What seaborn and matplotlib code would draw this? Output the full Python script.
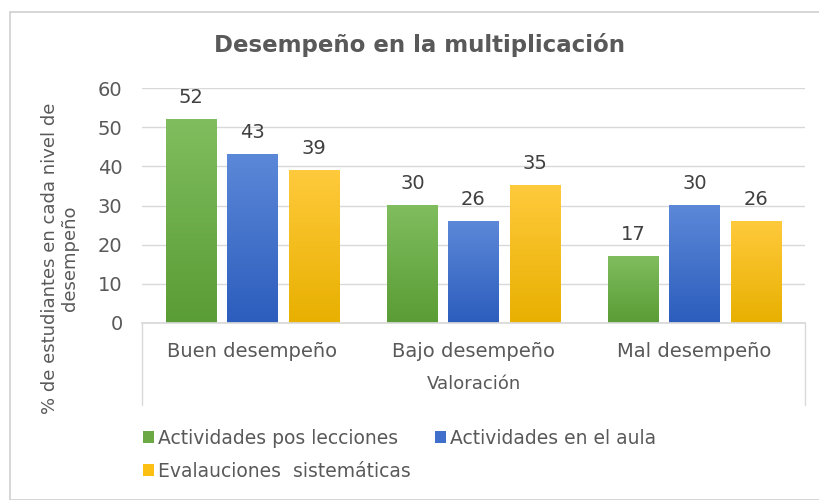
import matplotlib
matplotlib.use("Agg")
import numpy as np
import pandas as pd
import seaborn as sns
import matplotlib.pyplot as plt
from matplotlib.patches import Patch, Rectangle
from matplotlib.colors import LinearSegmentedColormap

# datos
categorias = ["Buen desempeño", "Bajo desempeño", "Mal desempeño"]
series = ["Actividades pos lecciones", "Actividades en el aula", "Evalauciones  sistemáticas"]
pos_lecciones = [52, 30, 17]
en_aula = [43, 26, 30]
evaluaciones = [39, 35, 26]

colores = ["#6aa944", "#3f6ecb", "#fcbf14"]
# (abajo, arriba) para el degradado tipo Excel
degradados = [("#5a9c35", "#80bd5e"), ("#2c5dbd", "#5c88d8"), ("#e8b000", "#ffca3c")]

df = pd.DataFrame({
    "Valoración": categorias * 3,
    "serie": [series[0]] * 3 + [series[1]] * 3 + [series[2]] * 3,
    "valor": pos_lecciones + en_aula + evaluaciones,
})

sns.set_theme(style="white")
plt.rcParams["font.family"] = ["DejaVu Sans"]
gris = "#595959"

fig = plt.figure(figsize=(8.2, 5), dpi=100)
ax = fig.add_axes([142 / 820, 1 - 323 / 500, 663 / 820, 235 / 500])

sns.barplot(data=df, x="Valoración", y="valor", hue="serie", palette=colores,
            width=0.83, gap=0.18, linewidth=0, legend=False, ax=ax)

# degradado vertical en cada barra
for cont, (c_bot, c_top) in zip(ax.containers, degradados):
    cmap = LinearSegmentedColormap.from_list("g", [c_bot, c_top])
    grad = np.linspace(0, 1, 256).reshape(-1, 1)
    for bar in cont:
        x0, y0 = bar.get_x(), bar.get_y()
        w, h = bar.get_width(), bar.get_height()
        ax.imshow(grad, cmap=cmap, aspect="auto", origin="lower",
                  extent=[x0, x0 + w, y0, y0 + h], zorder=2)
        bar.set_facecolor("none")
    ax.bar_label(cont, fontsize=14, color="#404040", padding=9)

ax.set_xlim(-0.5, 2.5)
ax.set_ylim(0, 60)
ax.set_yticks(range(0, 61, 10))
ax.yaxis.grid(True, color="#d9d9d9", linewidth=1)
ax.set_axisbelow(True)
for s in ["left", "right", "top"]:
    ax.spines[s].set_visible(False)
ax.spines["bottom"].set_color("#d9d9d9")
ax.tick_params(axis="both", length=0, labelsize=14, labelcolor=gris)
ax.tick_params(axis="y", pad=14)
ax.tick_params(axis="x", pad=14)
ax.set_ylabel("")
ax.set_xlabel("Valoración", fontsize=13, color=gris, labelpad=10)

# caja del eje de categorias
caja = -(405 - 323) / 235
for xx in [0, 1]:
    ax.plot([xx, xx], [0, caja], transform=ax.transAxes, color="#d9d9d9",
            lw=1, clip_on=False)

fig.text(60 / 820, 1 - 258 / 500, "% de estudiantes en cada nivel de\ndesempeño",
         rotation=90, ha="center", va="center", multialignment="center",
         fontsize=13, color=gris)

fig.text(420 / 820, 1 - 45 / 500, "Desempeño en la multiplicación", fontsize=16.5,
         fontweight="bold", color=gris, ha="center", va="center")

# orden para que la leyenda llene por filas
orden = [0, 2, 1]
handles = [Patch(facecolor=colores[i], edgecolor="none") for i in orden]
fig.legend(handles, [series[i] for i in orden], ncol=2, loc="upper left",
           bbox_to_anchor=(126 / 820, 1 - 412 / 500), frameon=False,
           fontsize=13.5, labelcolor=gris, handlelength=0.6, handleheight=0.6,
           handletextpad=0.2, columnspacing=1.3, labelspacing=0.75)

# marco del grafico
fig.patches.append(Rectangle((10 / 820, 0.0), 1.0, 1 - 12 / 500,
                             transform=fig.transFigure, fill=False,
                             edgecolor="#d0d0d0", lw=1.2))

fig.savefig("out.png", dpi=100)
